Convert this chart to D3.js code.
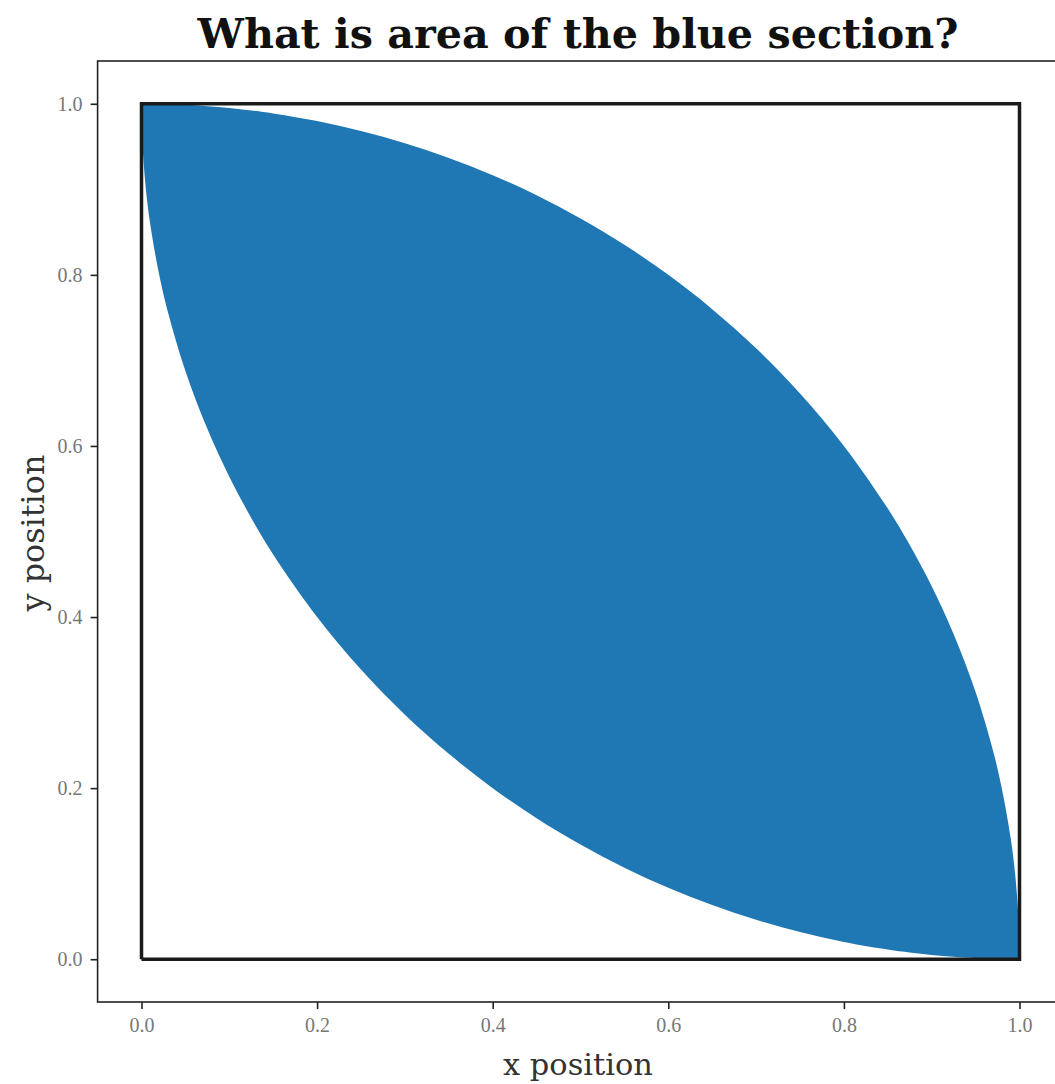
<!DOCTYPE html>
<html>
<head>
<meta charset="utf-8">
<script src="https://cdn.jsdelivr.net/npm/d3@7"></script>
<style>
  body { margin: 0; background: #fff; }
  svg { display: block; }
</style>
</head>
<body>
<div id="wrapper"></div>
<script>
// boundary curves of the blue section
const xValues = [0, 0.001, 0.005, 0.01, 0.02, 0.03, 0.05, 0.075, 0.1, 0.125, 0.15, 0.2, 0.25, 0.3, 0.35, 0.4,
  0.45, 0.5, 0.55, 0.6, 0.65, 0.7, 0.75, 0.8, 0.85, 0.875, 0.9, 0.925, 0.95, 0.97, 0.98, 0.99, 0.995, 0.999, 1]
const upperValues = [1, 1, 0.99999, 0.99995, 0.9998, 0.99955, 0.99875, 0.99718, 0.99499, 0.99216, 0.98869,
  0.9798, 0.96825, 0.95394, 0.93675, 0.91652, 0.89303, 0.86603, 0.83516, 0.8, 0.75993, 0.71414, 0.66144,
  0.6, 0.52678, 0.48412, 0.43589, 0.37997, 0.31225, 0.2431, 0.199, 0.14107, 0.09987, 0.04471, 0]
const lowerValues = [1, 0.95529, 0.90013, 0.85893, 0.801, 0.7569, 0.68775, 0.62003, 0.56411, 0.51588, 0.47322,
  0.4, 0.33856, 0.28586, 0.24007, 0.2, 0.16484, 0.13397, 0.10697, 0.08348, 0.06325, 0.04606, 0.03175,
  0.0202, 0.01131, 0.00784, 0.00501, 0.00282, 0.00125, 0.00045, 0.0002, 0.00005, 0.00001, 0, 0]

// the black unit square
const squareX = [0, 1, 1, 0, 0]
const squareY = [0, 0, 1, 1, 0]

const tickValues = [0, 0.2, 0.4, 0.6, 0.8, 1.0]

const titleText = "What is area of the blue section?"
const xLabelText = "x position"
const yLabelText = "y position"

const dimensions = {
  width: 1055,
  height: 1084,
  margin: { top: 61, left: 97.6 },
  boundedWidth: 965.8,
  boundedHeight: 941
}

const serif = "'DejaVu Serif', 'Liberation Serif', serif"
const tickSerif = "'Liberation Serif', serif"

const xScale = d3.scaleLinear().domain([-0.05, 1.05])
  .range([dimensions.margin.left, dimensions.margin.left + dimensions.boundedWidth])
const yScale = d3.scaleLinear().domain([-0.05, 1.05])
  .range([dimensions.margin.top + dimensions.boundedHeight, dimensions.margin.top])

const svg = d3.select("#wrapper").append("svg")
  .attr("width", dimensions.width)
  .attr("height", dimensions.height)

svg.append("rect").attr("width", dimensions.width).attr("height", dimensions.height).attr("fill", "#fff")

const leaf = xValues.map((x, i) => ({ x: x, upper: upperValues[i], lower: lowerValues[i] }))

const area = d3.area()
  .x(d => xScale(d.x))
  .y0(d => yScale(d.lower))
  .y1(d => yScale(d.upper))
  .curve(d3.curveCatmullRom.alpha(0.5))

svg.append("path")
  .attr("d", area(leaf))
  .attr("fill", "#1f77b4")

const line = d3.line()
  .x(d => xScale(d[0]))
  .y(d => yScale(d[1]))

svg.append("path")
  .attr("d", line(squareX.map((x, i) => [x, squareY[i]])))
  .attr("fill", "none")
  .attr("stroke", "#1a1a1a")
  .attr("stroke-width", 3.5)

// frame (right edge falls outside the picture)
svg.append("rect")
  .attr("x", dimensions.margin.left)
  .attr("y", dimensions.margin.top)
  .attr("width", dimensions.boundedWidth)
  .attr("height", dimensions.boundedHeight)
  .attr("fill", "none")
  .attr("stroke", "#222")
  .attr("stroke-width", 1.6)

const xAxis = svg.append("g")
  .attr("transform", `translate(0, ${dimensions.margin.top + dimensions.boundedHeight})`)
  .call(d3.axisBottom(xScale).tickValues(tickValues).tickFormat(d3.format(".1f")).tickSize(7).tickPadding(9))
const yAxis = svg.append("g")
  .attr("transform", `translate(${dimensions.margin.left}, 0)`)
  .call(d3.axisLeft(yScale).tickValues(tickValues).tickFormat(d3.format(".1f")).tickSize(7).tickPadding(8))

;[xAxis, yAxis].forEach(axis => {
  axis.select(".domain").remove()
  axis.selectAll(".tick line").attr("stroke", "#222").attr("stroke-width", 1.6)
  axis.selectAll(".tick text")
    .attr("font-family", tickSerif)
    .attr("font-size", 20)
    .attr("fill", "#777")
})

// scale the font size so the text spans the measured width
const fitWidth = (text, target) => {
  const size = +text.attr("font-size")
  const w = text.node().getComputedTextLength()
  text.attr("font-size", (size * target / w).toFixed(2))
}

const title = svg.append("text")
  .attr("x", 578)
  .attr("y", 48)
  .attr("text-anchor", "middle")
  .attr("font-family", serif)
  .attr("font-weight", "bold")
  .attr("font-size", 40)
  .attr("fill", "#111")
  .text(titleText)
fitWidth(title, 761)

const xLabel = svg.append("text")
  .attr("x", 578)
  .attr("y", 1075)
  .attr("text-anchor", "middle")
  .attr("font-family", serif)
  .attr("font-size", 26)
  .attr("fill", "#333")
  .text(xLabelText)
fitWidth(xLabel, 150)

const yLabel = svg.append("text")
  .attr("transform", "translate(44, 533) rotate(-90)")
  .attr("text-anchor", "middle")
  .attr("font-family", serif)
  .attr("font-size", 26)
  .attr("fill", "#333")
  .text(yLabelText)
fitWidth(yLabel, 157)
</script>
</body>
</html>
